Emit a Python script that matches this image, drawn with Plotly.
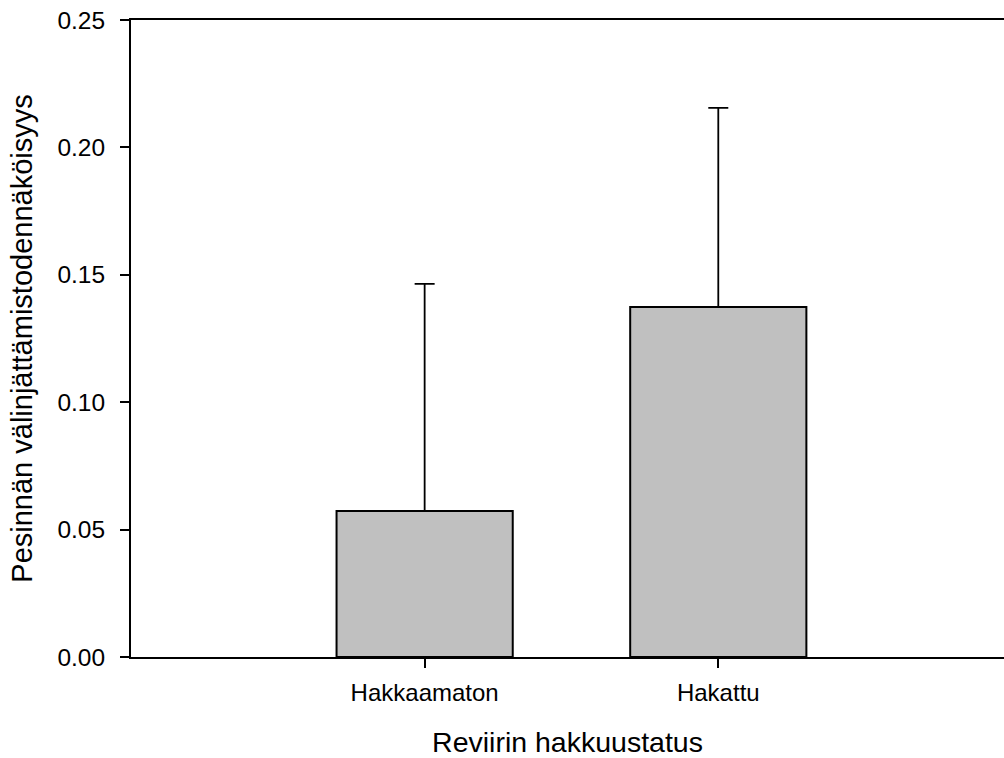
import plotly.graph_objects as go

# Nest abandonment probability by territory logging status
categories = ["Hakkaamaton", "Hakattu"]
means = [0.0573, 0.1374]
upper_err = [0.0891, 0.0781]

y_ticks = [0.00, 0.05, 0.10, 0.15, 0.20, 0.25]
y_tick_text = ["0.00", "0.05", "0.10", "0.15", "0.20", "0.25"]

FONT = "Liberation Sans, Arial, sans-serif"

fig = go.Figure(
    go.Bar(
        x=[0, 1],
        y=means,
        width=0.6,
        marker=dict(color="#c0c0c0", line=dict(color="black", width=2)),
        error_y=dict(
            type="data",
            symmetric=False,
            array=upper_err,
            arrayminus=[0, 0],
            color="black",
            thickness=1.8,
            width=10,
        ),
    )
)

fig.update_layout(
    width=1004,
    height=758,
    margin=dict(l=131, r=0, t=20, b=101),
    paper_bgcolor="white",
    plot_bgcolor="white",
    showlegend=False,
    font=dict(family=FONT, color="black"),
    xaxis=dict(
        range=[-1.0, 1.973],
        tickvals=[0, 1],
        ticktext=categories,
        ticks="outside",
        ticklen=9,
        tickwidth=1.5,
        tickcolor="black",
        tickfont=dict(size=24, family=FONT),
        ticklabelstandoff=4,
        showline=True,
        linecolor="black",
        linewidth=2,
        mirror=True,
        showgrid=False,
        zeroline=False,
        title=dict(text="Reviirin hakkuustatus", font=dict(size=28.5, family=FONT), standoff=30),
    ),
    yaxis=dict(
        range=[0, 0.25],
        tickvals=y_ticks,
        ticktext=y_tick_text,
        ticks="outside",
        ticklen=9,
        tickwidth=1.5,
        tickcolor="black",
        tickfont=dict(size=24.5, family=FONT),
        ticklabelstandoff=10,
        showline=True,
        linecolor="black",
        linewidth=2,
        showgrid=False,
        zeroline=False,
        title=dict(text="Pesinnän välinjättämistodennäköisyys", font=dict(size=29, family=FONT), standoff=16),
    ),
)

fig.write_html("out.html")
